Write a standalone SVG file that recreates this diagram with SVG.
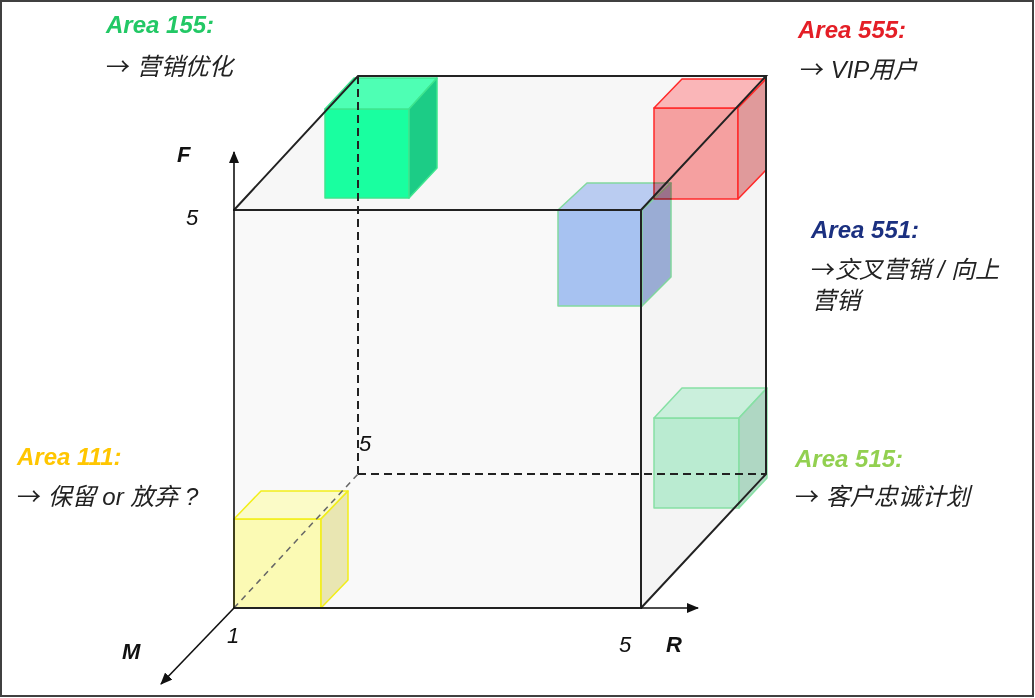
<svg xmlns="http://www.w3.org/2000/svg" width="1035" height="698" viewBox="0 0 1035 698">
<defs>
<marker id="arr" viewBox="0 0 12 10" refX="11" refY="5" markerWidth="12" markerHeight="10" markerUnits="userSpaceOnUse" orient="auto">
<path d="M0,0 L12,5 L0,10 z" fill="#111"/>
</marker>
<style>
.edge{stroke:#222;stroke-width:2;fill:none;stroke-linecap:round}
.dash{stroke:#222;stroke-width:2;fill:none;stroke-dasharray:8 5}
.gdash{stroke:#666;stroke-width:1.5;fill:none;stroke-dasharray:6 5}
.axis{stroke:#111;stroke-width:1.6;fill:none}
.ttl{font-family:"Liberation Sans",Arial,sans-serif;font-weight:bold;font-style:italic;font-size:24px}
.desc{font-family:"Liberation Sans","Noto Sans CJK SC",sans-serif;font-style:italic;font-size:24px;fill:#222}
.arw{font-family:"Noto Sans CJK SC",sans-serif;font-style:normal;font-size:24px}
.ax{font-family:"Liberation Sans",Arial,sans-serif;font-style:italic;font-size:22px;fill:#111}
.axb{font-family:"Liberation Sans",Arial,sans-serif;font-style:italic;font-weight:bold;font-size:22px;fill:#111}
.cs{stroke-width:1.5;stroke-linejoin:round}
</style>
</defs>
<rect x="1" y="1" width="1032" height="695" fill="#fff" stroke="#404040" stroke-width="2"/>

<g id="big-cube-faces">
<polygon points="234,210 641,210 641,608 234,608" fill="#f9f9f9"/>
<polygon points="234,210 358,76 766,76 641,210" fill="#f7f7f7"/>
<polygon points="641,210 766,76 766,474 641,608" fill="#f4f4f4"/>
</g>

<g id="cube-111" class="cs" stroke="#f2ee1a">
<rect x="234" y="519" width="87" height="89" fill="#fbfaa8" fill-opacity="0.85"/>
<polygon points="234,519 261,491 348,491 321,519" fill="#fcfcbe" fill-opacity="0.85"/>
<polygon points="321,519 348,491 348,580 321,608" fill="#e6e3a6" fill-opacity="0.85"/>
</g>

<g id="cube-155" class="cs" stroke="#3ee68f">
<rect x="325" y="109" width="84" height="89" fill="#19ffa0"/>
<polygon points="325,109 354,78 437,78 409,109" fill="#4effb4"/>
<polygon points="409,109 437,78 437,168 409,198" fill="#1ccc86"/>
</g>

<g id="cube-555" class="cs" stroke="#ff2a2a">
<rect x="654" y="108" width="84" height="91" fill="#f5a0a0"/>
<polygon points="654,108 682,79 766,79 738,108" fill="#fab6b8"/>
<polygon points="738,108 766,79 766,170 738,199" fill="#e09a9b"/>
</g>

<g id="cube-551" class="cs" stroke="#86e0a4" style="mix-blend-mode:multiply">
<rect x="558" y="210" width="84" height="96" fill="#abc7f7"/>
<polygon points="558,210 587,183 671,183 642,210" fill="#c0d3f9"/>
<polygon points="642,210 671,183 671,277 642,306" fill="#a1b4de"/>
</g>

<g id="cube-515" class="cs" stroke="#86e0a4">
<rect x="654" y="418" width="85" height="90" fill="#b4e9cd" fill-opacity="0.92"/>
<polygon points="654,418 682,388 767,388 739,418" fill="#c6eed9" fill-opacity="0.92"/>
<polygon points="739,418 767,388 767,478 739,508" fill="#a8d4be" fill-opacity="0.92"/>
</g>

<g id="connectors">
<line class="dash" x1="358" y1="76" x2="358" y2="474"/>
<line class="dash" x1="358" y1="474" x2="766" y2="474"/>
<line class="gdash" x1="234" y1="608" x2="358" y2="474"/>
<polyline class="edge" points="234,210 641,210 641,608 234,608"/>
<polyline class="edge" points="234,210 358,76 766,76 641,210"/>
<polyline class="edge" points="766,76 766,474 641,608"/>
<line class="axis" x1="234" y1="608" x2="234" y2="152" marker-end="url(#arr)"/>
<line class="axis" x1="641" y1="608" x2="698" y2="608" marker-end="url(#arr)"/>
<line class="axis" x1="234" y1="608" x2="161" y2="684" marker-end="url(#arr)"/>
</g>

<g id="axis-labels">
<text class="axb" x="177" y="162">F</text>
<text class="ax" x="186" y="225">5</text>
<text class="axb" x="122" y="659">M</text>
<text class="ax" x="227" y="643">1</text>
<text class="ax" x="359" y="451">5</text>
<text class="ax" x="619" y="652">5</text>
<text class="axb" x="666" y="652">R</text>
</g>

<g id="label-155">
<text class="ttl" x="106" y="33" fill="#22c865">Area 155:</text>
<text class="desc" x="106" y="75"><tspan class="arw">→</tspan> 营销优化</text>
</g>
<g id="label-555">
<text class="ttl" x="798" y="38" fill="#e41e26">Area 555:</text>
<text class="desc" x="800" y="78"><tspan class="arw">→</tspan> VIP用户</text>
</g>
<g id="label-551">
<text class="ttl" x="811" y="238" fill="#1b3080">Area 551:</text>
<text class="desc" x="811" y="278"><tspan class="arw">→</tspan>交叉营销 / 向上</text>
<text class="desc" x="812" y="309">营销</text>
</g>
<g id="label-111">
<text class="ttl" x="17" y="465" fill="#ffc600">Area 111:</text>
<text class="desc" x="17" y="505"><tspan class="arw">→</tspan> 保留 or 放弃 ?</text>
</g>
<g id="label-515">
<text class="ttl" x="795" y="467" fill="#92d050">Area 515:</text>
<text class="desc" x="795" y="505"><tspan class="arw">→</tspan> 客户忠诚计划</text>
</g>
</svg>
